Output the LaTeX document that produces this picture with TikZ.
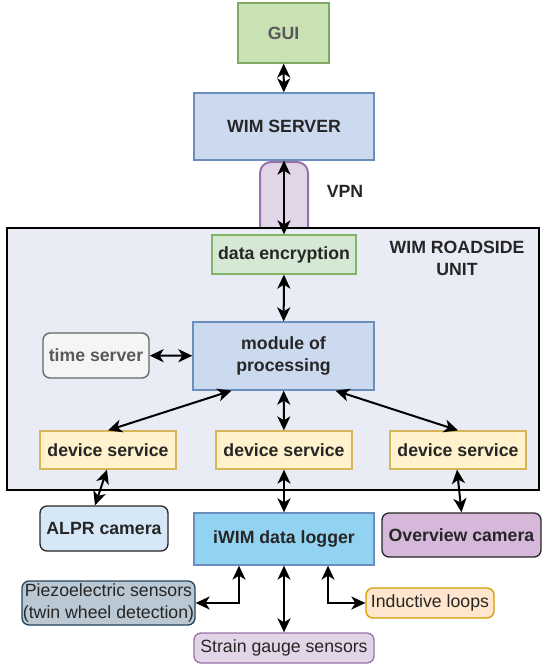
\documentclass[tikz,border=0pt]{standalone}
\usepackage{fontspec}
\setmainfont{Liberation Sans}
\usetikzlibrary{arrows.meta}

\definecolor{guifill}{HTML}{C9E2B3}
\definecolor{guiline}{HTML}{82A866}
\definecolor{srvfill}{HTML}{CCDAF0}
\definecolor{srvline}{HTML}{6C8EBF}
\definecolor{vpnfill}{HTML}{E1D5E7}
\definecolor{vpnline}{HTML}{9673A6}
\definecolor{rsufill}{HTML}{E9EBF5}
\definecolor{encfill}{HTML}{D5E8D4}
\definecolor{encline}{HTML}{82B366}
\definecolor{timefill}{HTML}{F5F5F5}
\definecolor{timeline}{HTML}{666666}
\definecolor{devfill}{HTML}{FFF2CC}
\definecolor{devline}{HTML}{D6B656}
\definecolor{alprfill}{HTML}{D6E7F8}
\definecolor{logfill}{HTML}{93D3F2}
\definecolor{ovfill}{HTML}{D5B8DA}
\definecolor{piezofill}{HTML}{BAC8D3}
\definecolor{piezoline}{HTML}{23445D}
\definecolor{loopfill}{HTML}{FFE6CC}
\definecolor{loopline}{HTML}{D79B00}
\definecolor{txt}{HTML}{262626}

\tikzset{
  box/.style={draw, line width=1.3pt, inner sep=0pt, align=center, text=txt,
    font=\fontsize{17.7}{22}\selectfont\bfseries},
  soft/.style={box, rounded corners=7pt, font=\fontsize{17.7}{22}\selectfont},
  link/.style={{Stealth[length=14pt,width=13pt,inset=4pt]}-{Stealth[length=14pt,width=13pt,inset=4pt]},
    line width=2pt},
}

\begin{document}
\begin{tikzpicture}[x=1pt,y=-1pt]
   \useasboundingbox (0,0) rectangle (550,669);

   % Server side
   \node[box, fill=guifill, draw=guiline, text=black!65, minimum width=91pt, minimum height=60pt] (gui) at (283.5,33) {GUI};
   \node[box, fill=srvfill, draw=srvline, minimum width=180pt, minimum height=67pt] (server) at (284,126.5) {WIM SERVER};

   % VPN tunnel
   \filldraw[fill=vpnfill, draw=vpnline, line width=2pt, rounded corners=11pt]
       (260,228) -- (260,162) -- (308,162) -- (308,228);
   \node[text=txt, font=\fontsize{17.7}{22}\selectfont\bfseries] (vpn) at (345,191) {VPN};

   % Roadside unit
   \draw[fill=rsufill, line width=1.8pt] (7,228) rectangle (539,490);
   \node[text=txt, align=center, font=\fontsize{17.7}{22}\selectfont\bfseries] (rsu) at (457,258) {WIM ROADSIDE\\UNIT};

   \node[box, fill=encfill, draw=encline, minimum width=144pt, minimum height=39pt] (enc) at (284,254.5) {data encryption};
   \node[box, fill=srvfill, draw=srvline, minimum width=181pt, minimum height=68pt] (module) at (283.5,356) {module of\\processing};
   \node[box, rounded corners=7pt, fill=timefill, draw=timeline, text=black!65, minimum width=106pt, minimum height=45pt] (time) at (96,355.5) {time server};

   \foreach \n/\x in {ds1/108, ds2/284, ds3/458} {
       \node[box, fill=devfill, draw=devline, minimum width=136pt, minimum height=38pt] (\n) at (\x,450) {device service};
   }

   % Field devices
   \node[box, rounded corners=7pt, fill=alprfill, draw=txt, minimum width=128pt, minimum height=45pt] (alpr) at (104,528.5) {ALPR camera};
   \node[box, fill=logfill, draw=srvline, minimum width=180pt, minimum height=52pt] (logger) at (284,539) {iWIM data logger};
   \node[box, rounded corners=7pt, fill=ovfill, draw=txt, minimum width=159pt, minimum height=44pt] (overview) at (461.5,535) {Overview camera};

   % Sensors
   \node[soft, fill=piezofill, draw=piezoline, minimum width=173pt, minimum height=44pt] (piezo) at (108.5,603) {Piezoelectric sensors\\(twin wheel detection)};
   \node[soft, fill=vpnfill, draw=vpnline, minimum width=180pt, minimum height=30pt] (strain) at (284,648) {Strain gauge sensors};
   \node[soft, fill=loopfill, draw=loopline, minimum width=128pt, minimum height=30pt] (loops) at (430,603) {Inductive loops};

   % Connections
   \draw[link] (gui) -- (server);
   \draw[link] (server) -- (enc);
   \draw[link] (enc) -- (module);
   \draw[link] (time) -- (module);
   \draw[link] ([xshift=-52pt]module.south) -- (ds1.north);
   \draw[link] (module) -- (ds2);
   \draw[link] ([xshift=52pt]module.south) -- (ds3.north);
   \draw[link] ([xshift=-1pt]ds1.south) -- ([xshift=-9pt]alpr.north);
   \draw[link] (ds2) -- (logger);
   \draw[link] ([xshift=-1pt]ds3.south) -- (overview.north);
   \draw[link] ([xshift=-45pt]logger.south) |- (piezo.east);
   \draw[link] (logger) -- (strain);
   \draw[link] ([xshift=44pt]logger.south) |- (loops.west);
\end{tikzpicture}
\end{document}
